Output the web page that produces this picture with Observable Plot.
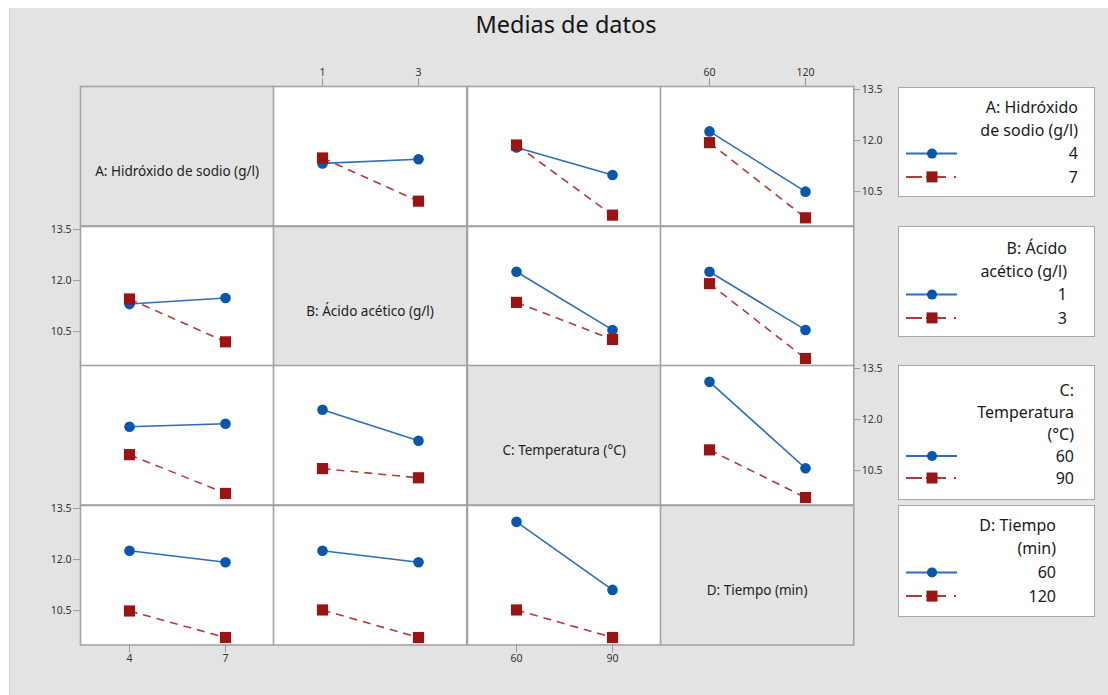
<!DOCTYPE html>
<html>
<head>
<meta charset="utf-8">
<script src="https://cdn.jsdelivr.net/npm/d3@7"></script>
<script src="https://cdn.jsdelivr.net/npm/@observablehq/plot@0.6"></script>
<style>
  body { margin: 0; background: #fff; font-family: "Noto Sans", sans-serif; width: 1108px; height: 695px; overflow: hidden; position: relative; }
  #panel { position: absolute; left: 9px; top: 8px; width: 1099px; height: 687px; background: #e3e3e3; border-left: 1px solid #d6d6d6; }
  #title { position: absolute; left: 12px; width: 1108px; top: 9px; text-align: center; font-size: 23.5px; line-height: 30px; color: #151515; }
  .cell { position: absolute; }
  .cell svg { overflow: visible; display: block; }
  .legend { position: absolute; }
</style>
</head>
<body>
<div id="panel"></div>
<div id="title">Medias de datos</div>
<div id="grid"></div>
<script>
// ---- data ----
const factorNames = ["A: Hidróxido de sodio (g/l)", "B: Ácido acético (g/l)", "C: Temperatura (°C)", "D: Tiempo (min)"];
const levelsA = [4, 7];
const levelsB = [1, 3];
const levelsC = [60, 90];
const levelsD = [60, 120];
const yTicks = [10.5, 12.0, 13.5];
const legendTitleA = ["A: Hidróxido", "de sodio (g/l)"];
const legendTitleB = ["B: Ácido", "acético (g/l)"];
const legendTitleC = ["C:", "Temperatura", "(°C)"];
const legendTitleD = ["D: Tiempo", "(min)"];

// means[row factor][x factor]: [line for low level of row factor], [line for high level]
const meansAxB = [[11.33, 11.45], [11.49, 10.22]];
const meansAxC = [[11.80, 10.99], [11.87, 9.81]];
const meansAxD = [[12.27, 10.50], [11.94, 9.73]];
const meansBxA = [[11.31, 11.49], [11.46, 10.20]];
const meansBxC = [[12.26, 10.55], [11.36, 10.27]];
const meansBxD = [[12.26, 10.55], [11.91, 9.71]];
const meansCxA = [[11.79, 11.88], [10.97, 9.83]];
const meansCxB = [[12.29, 11.38], [10.56, 10.29]];
const meansCxD = [[13.11, 10.57], [11.11, 9.71]];
const meansDxA = [[12.26, 11.92], [10.49, 9.71]];
const meansDxB = [[12.26, 11.92], [10.52, 9.71]];
const meansDxC = [[13.11, 11.11], [10.52, 9.71]];

// ---- assembly ----
const factorLevels = [levelsA, levelsB, levelsC, levelsD];
const legendTitles = [legendTitleA, legendTitleB, legendTitleC, legendTitleD];
const means = [
  [null, meansAxB, meansAxC, meansAxD],
  [meansBxA, null, meansBxC, meansBxD],
  [meansCxA, meansCxB, null, meansCxD],
  [meansDxA, meansDxB, meansDxC, null]
];

const BLUE = "#0a56a8", BLUE_LINE = "#2e6db8", RED = "#9a1414", RED_LINE = "#b23a3a";
const gridX = 80, gridY = 86, cellW = 193.25, cellH = 139.5;
const yDomain = [9.49, 13.59];
const grid = document.getElementById("grid");

for (let i = 0; i < 4; i++) {
  for (let j = 0; j < 4; j++) {
    const diag = i === j;
    const marks = [Plot.frame({fill: diag ? "#e3e3e3" : "#ffffff", stroke: "#a4a4a4", strokeWidth: 1.6})];
    if (diag) {
      marks.push(Plot.text([factorNames[i]], {text: d => d, frameAnchor: "middle", dy: 15, fontSize: 13.5, fill: "#222"}));
    } else {
      const lv = factorLevels[j];
      const m = means[i][j];
      const lo = lv.map((x, k) => ({x, y: m[0][k]}));
      const hi = lv.map((x, k) => ({x, y: m[1][k]}));
      marks.push(
        Plot.line(lo, {x: "x", y: "y", stroke: BLUE_LINE, strokeWidth: 1.6}),
        Plot.line(hi, {x: "x", y: "y", stroke: RED_LINE, strokeWidth: 1.6, strokeDasharray: "8,6", strokeLinecap: "butt"}),
        Plot.dot(lo, {x: "x", y: "y", r: 5.3, fill: BLUE}),
        Plot.dot(hi, {x: "x", y: "y", symbol: "square", r: 6.3, fill: RED})
      );
    }
    const axOpts = {fontSize: 10.5, fill: "#333", stroke: "#9a9a9a", tickPadding: 2, label: null};
    let hasX = false, hasY = false;
    if (i === 0 && (j === 1 || j === 3)) { marks.push(Plot.axisX({...axOpts, anchor: "top", tickSize: 9})); hasX = true; }
    if (i === 3 && (j === 0 || j === 2)) { marks.push(Plot.axisX({...axOpts, anchor: "bottom", tickSize: 8})); hasX = true; }
    if (j === 0 && (i === 1 || i === 3)) { marks.push(Plot.axisY(yTicks, {...axOpts, anchor: "left", tickSize: 7, tickFormat: d3.format(".1f")})); hasY = true; }
    if (j === 3 && (i === 0 || i === 2)) { marks.push(Plot.axisY(yTicks, {...axOpts, anchor: "right", tickSize: 6, tickFormat: d3.format(".1f")})); hasY = true; }

    const svg = Plot.plot({
      width: cellW, height: cellH, margin: 0,
      style: {overflow: "visible", background: "transparent", fontFamily: "Noto Sans"},
      x: {type: "point", domain: factorLevels[j], padding: 0.5, label: null, ...(hasX ? {} : {axis: null})},
      y: {domain: yDomain, label: null, ...(hasY ? {} : {axis: null})},
      marks
    });
    const div = document.createElement("div");
    div.className = "cell";
    div.style.left = (gridX + j * cellW) + "px";
    div.style.top = (gridY + i * cellH) + "px";
    div.appendChild(svg);
    grid.appendChild(div);
  }
}

// ---- legends ----
const legendBoxes = [
  {top: 87, h: 109, right: 1078, first: 20, step: 23.3},
  {top: 226, h: 110, right: 1067, first: 22, step: 23.3},
  {top: 365, h: 134, right: 1074, first: 25, step: 22},
  {top: 505, h: 111, right: 1056, first: 20, step: 23.7}
];
const legLeft = 898, legW = 196;
legendBoxes.forEach((b, i) => {
  const svg = d3.select("body").append("svg").attr("class", "legend")
    .style("left", legLeft + "px").style("top", b.top + "px")
    .attr("width", legW + 2).attr("height", b.h + 2);
  svg.append("rect").attr("x", 0.5).attr("y", 0.5).attr("width", legW).attr("height", b.h)
    .attr("fill", "#fff").attr("stroke", "#a8a8a8");
  const lines = [...legendTitles[i], ...factorLevels[i].map(String)];
  lines.forEach((t, k) => {
    svg.append("text").attr("x", b.right - legLeft).attr("y", b.first + k * b.step)
      .attr("dy", "0.35em").attr("text-anchor", "end")
      .attr("font-size", 16).attr("fill", "#1a1a1a").attr("font-family", "Noto Sans").text(t);
  });
  const nT = legendTitles[i].length;
  const yb = b.first + nT * b.step, yr = b.first + (nT + 1) * b.step;
  svg.append("line").attr("x1", 8).attr("x2", 59).attr("y1", yb).attr("y2", yb).attr("stroke", BLUE_LINE).attr("stroke-width", 2);
  svg.append("circle").attr("cx", 34).attr("cy", yb).attr("r", 5).attr("fill", BLUE);
  svg.append("line").attr("x1", 8).attr("x2", 60).attr("y1", yr).attr("y2", yr).attr("stroke", RED_LINE).attr("stroke-width", 2)
    .attr("stroke-dasharray", "16,4,20,8,2,40");
  svg.append("rect").attr("x", 28.5).attr("y", yr - 5.5).attr("width", 11).attr("height", 11).attr("fill", RED);
});
</script>
</body>
</html>
